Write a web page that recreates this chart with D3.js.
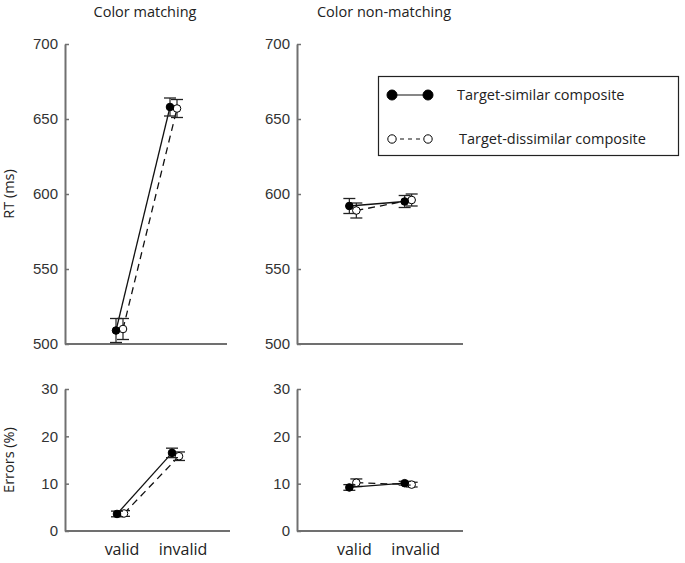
<!DOCTYPE html>
<html>
<head>
<meta charset="utf-8">
<script src="https://cdn.jsdelivr.net/npm/d3@7"></script>
<style>
  body { margin: 0; background: #fff; }
  .tick text { font-family: "Liberation Sans", Arial, sans-serif; font-size: 15px; fill: #333; }
  .lbl { font-family: "Open Sans", sans-serif; fill: #222; }
</style>
</head>
<body>
<script>
const conditions = ['valid', 'invalid']
const seriesNames = ['Target-similar composite', 'Target-dissimilar composite']
const panelTitles = ['Color matching', 'Color non-matching']

// RT (ms), means and error bars
const rtMatchSimilar = [509, 658]
const rtMatchSimilarErr = [8, 6]
const rtMatchDissimilar = [510, 657]
const rtMatchDissimilarErr = [7, 6]
const rtNonSimilar = [592, 595]
const rtNonSimilarErr = [5, 4]
const rtNonDissimilar = [589, 596]
const rtNonDissimilarErr = [5, 4]

// Errors (%)
const errMatchSimilar = [3.6, 16.5]
const errMatchSimilarErr = [0.6, 1.0]
const errMatchDissimilar = [3.7, 15.8]
const errMatchDissimilarErr = [0.6, 0.9]
const errNonSimilar = [9.2, 10.1]
const errNonSimilarErr = [0.6, 0.4]
const errNonDissimilar = [10.2, 9.8]
const errNonDissimilarErr = [0.8, 0.5]

const rtTicks = [500, 550, 600, 650, 700]
const errTicks = [0, 10, 20, 30]

const svg = d3.select('body').append('svg')
  .attr('width', 685)
  .attr('height', 563)

const axisColor = '#707070'

const panels = [
  { left: 65, right: 227, top: 44, bottom: 344, domain: [500, 700], ticks: rtTicks,
    sim: rtMatchSimilar, simE: rtMatchSimilarErr, dis: rtMatchDissimilar, disE: rtMatchDissimilarErr },
  { left: 297, right: 463, top: 44, bottom: 344, domain: [500, 700], ticks: rtTicks,
    sim: rtNonSimilar, simE: rtNonSimilarErr, dis: rtNonDissimilar, disE: rtNonDissimilarErr },
  { left: 65, right: 230, top: 389, bottom: 531, domain: [0, 30], ticks: errTicks, xLabels: true,
    sim: errMatchSimilar, simE: errMatchSimilarErr, dis: errMatchDissimilar, disE: errMatchDissimilarErr },
  { left: 297, right: 463, top: 389, bottom: 531, domain: [0, 30], ticks: errTicks, xLabels: true,
    sim: errNonSimilar, simE: errNonSimilarErr, dis: errNonDissimilar, disE: errNonDissimilarErr }
]

panels.forEach(p => {
  const x = d3.scalePoint().domain(conditions).range([p.left, p.right]).padding(1)
  const y = d3.scaleLinear().domain(p.domain).range([p.bottom, p.top])
  const g = svg.append('g')

  const yAxis = g.append('g')
    .attr('transform', `translate(${p.left},0)`)
    .call(d3.axisLeft(y).tickValues(p.ticks).tickSize(-4).tickPadding(7).tickSizeOuter(0))
  yAxis.select('.domain').attr('stroke', axisColor).attr('stroke-width', 2)
  yAxis.selectAll('.tick line').attr('stroke', axisColor).attr('stroke-width', 1.5)

  g.append('line')
    .attr('x1', p.left).attr('x2', p.right)
    .attr('y1', p.bottom).attr('y2', p.bottom)
    .attr('stroke', axisColor).attr('stroke-width', 2)

  if (p.xLabels) {
    g.selectAll('.xlbl').data(conditions).enter().append('text')
      .attr('class', 'lbl')
      .attr('x', (d, i) => x(d) + (i ? 8 : 2))
      .attr('y', 555)
      .attr('text-anchor', 'middle')
      .attr('font-size', 16)
      .text(d => d)
  }

  const sets = [
    { vals: p.dis, err: p.disE, dx: 4, fill: '#fff', dash: '7,5' },
    { vals: p.sim, err: p.simE, dx: -3, fill: '#000', dash: null }
  ]

  sets.forEach(s => {
    const pts = conditions.map((c, i) => ({ x: x(c) + s.dx, v: s.vals[i], e: s.err[i] }))
    g.append('path')
      .attr('d', d3.line().x(d => d.x).y(d => y(d.v))(pts))
      .attr('fill', 'none')
      .attr('stroke', '#111')
      .attr('stroke-width', 1.3)
      .attr('stroke-dasharray', s.dash)

    const eb = g.selectAll(null).data(pts).enter().append('g')
    eb.append('line')
      .attr('x1', d => d.x).attr('x2', d => d.x)
      .attr('y1', d => y(d.v - d.e)).attr('y2', d => y(d.v + d.e))
      .attr('stroke', '#222').attr('stroke-width', 1.2)
    ;[-1, 1].forEach(sg => {
      eb.append('line')
        .attr('x1', d => d.x - 6).attr('x2', d => d.x + 6)
        .attr('y1', d => y(d.v + sg * d.e)).attr('y2', d => y(d.v + sg * d.e))
        .attr('stroke', '#222').attr('stroke-width', 1.3)
    })
    eb.append('circle')
      .attr('cx', d => d.x).attr('cy', d => y(d.v))
      .attr('r', 3.8)
      .attr('fill', s.fill)
      .attr('stroke', '#000').attr('stroke-width', 1)
  })
})

// titles
svg.append('text').attr('class', 'lbl').attr('x', 145).attr('y', 17)
  .attr('text-anchor', 'middle').attr('font-size', 14.5).text(panelTitles[0])
svg.append('text').attr('class', 'lbl').attr('x', 384).attr('y', 17)
  .attr('text-anchor', 'middle').attr('font-size', 14.5).text(panelTitles[1])

// y labels
svg.append('text').attr('class', 'lbl')
  .attr('transform', 'translate(14,194) rotate(-90)')
  .attr('text-anchor', 'middle').attr('font-size', 14.5).text('RT (ms)')
svg.append('text').attr('class', 'lbl')
  .attr('transform', 'translate(14,460) rotate(-90)')
  .attr('text-anchor', 'middle').attr('font-size', 14.5).text('Errors (%)')

// legend
const legend = svg.append('g')
legend.append('rect')
  .attr('x', 378.5).attr('y', 76.5).attr('width', 300).attr('height', 79)
  .attr('fill', '#fff').attr('stroke', '#222').attr('stroke-width', 1.2)

const legendRows = [
  { name: seriesNames[0], y: 95, fill: '#000', dash: null, r: 5 },
  { name: seriesNames[1], y: 139, fill: '#fff', dash: '4,4', r: 4.2 }
]
legendRows.forEach(row => {
  legend.append('line')
    .attr('x1', 392).attr('x2', 428).attr('y1', row.y).attr('y2', row.y)
    .attr('stroke', '#111').attr('stroke-width', 1.2).attr('stroke-dasharray', row.dash)
  ;[392, 428].forEach(cx => {
    legend.append('circle').attr('cx', cx).attr('cy', row.y).attr('r', row.r)
      .attr('fill', row.fill).attr('stroke', '#000').attr('stroke-width', 1)
  })
  legend.append('text').attr('class', 'lbl')
    .attr('x', row === legendRows[0] ? 457 : 459).attr('y', row.y + 5)
    .attr('font-size', 14.5).text(row.name)
})
</script>
</body>
</html>
